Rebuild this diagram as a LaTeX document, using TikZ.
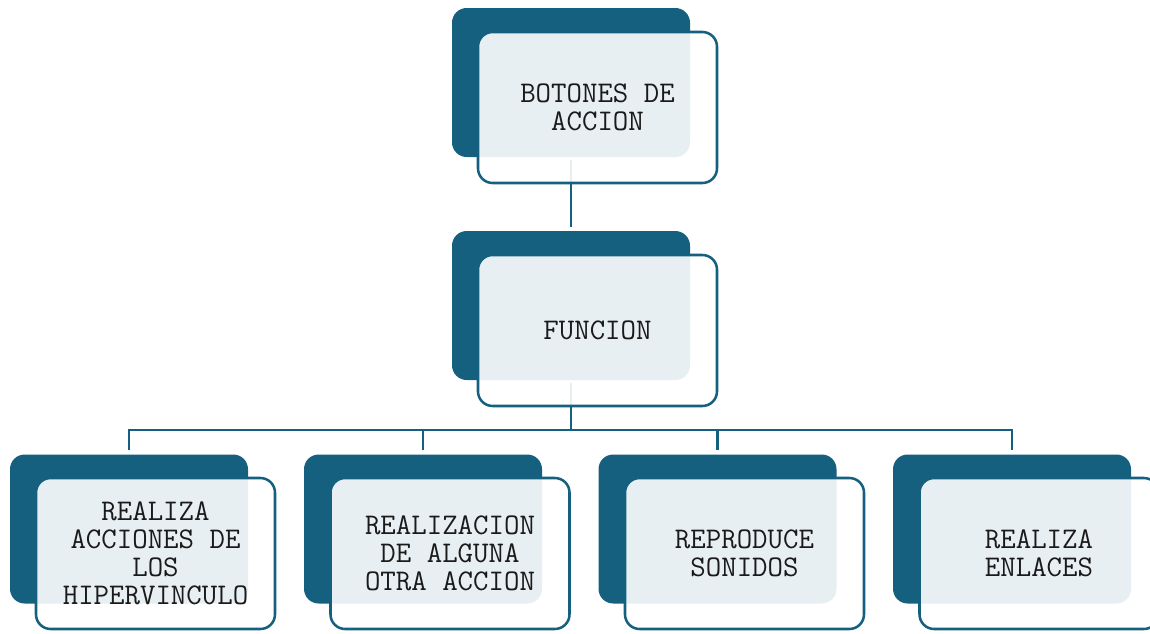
\documentclass[tikz,border=0pt]{standalone}
\usepackage{fontspec}
\definecolor{darkblue}{HTML}{16607F}
\definecolor{txt}{HTML}{1A1A1A}
\begin{document}
\begin{tikzpicture}[x=0.75pt,y=-0.75pt,
  backbox/.style={fill=darkblue, draw=none, rounded corners=11pt,
    minimum width=178.5pt, minimum height=111.75pt, inner sep=0pt},
  frontbox/.style={fill=white, fill opacity=0.9, text opacity=1,
    draw=darkblue, line width=1.9pt, rounded corners=11pt,
    minimum width=179.25pt, minimum height=113.25pt, inner sep=0pt,
    align=center, text=txt,
    font=\ttfamily\fontsize{22.5pt}{21pt}\selectfont},
  link/.style={draw=darkblue, line width=1.9pt},
]
\useasboundingbox (0,0) rectangle (1150,633);
% back boxes
\node[backbox] (d1) at (571,82.5) {};
\node[backbox] (d2) at (571,305.5) {};
\node[backbox] (b1) at (129,529) {};
\node[backbox] (b2) at (423,529) {};
\node[backbox] (b3) at (717.5,529) {};
\node[backbox] (b4) at (1012,529) {};
% connectors
\coordinate (bus) at (571,430);
\draw[link, shorten <=2.25pt, shorten >=2.5pt] (d1.south) -- (d2.north);
\draw[link, shorten <=2.25pt] (d2.south) -- (bus);
\draw[link, line cap=rect] (bus -| b1.north) -- (bus -| b4.north);
\foreach \i in {1,2,3,4}{
  \draw[link, shorten >=3pt] (bus -| b\i.north) -- (b\i.north);
}
% front boxes
\node[frontbox] (f1) at (597.5,107.5) {BOTONES DE\\ACCION};
\node[frontbox] (f2) at (597.5,330.5) {FUNCION};
\node[frontbox] (g1) at (155.5,553.5) {REALIZA\\ACCIONES DE\\LOS\\HIPERVINCULO};
\node[frontbox] (g2) at (450,553.5) {REALIZACION\\DE ALGUNA\\OTRA ACCION};
\node[frontbox] (g3) at (744.5,553.5) {REPRODUCE\\SONIDOS};
\node[frontbox] (g4) at (1039,553.5) {REALIZA\\ENLACES};
\end{tikzpicture}
\end{document}
